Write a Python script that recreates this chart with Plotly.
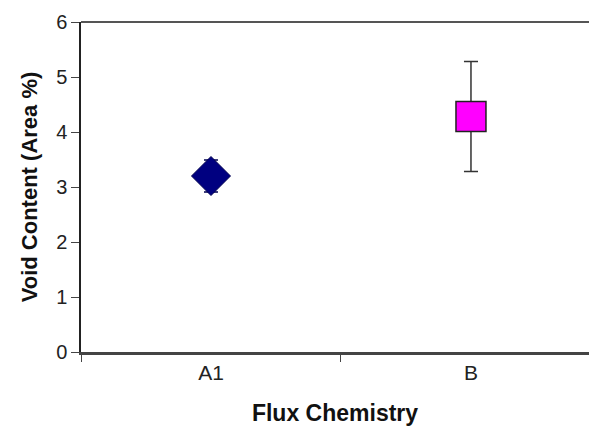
import plotly.graph_objects as go

categories = ["A1", "B"]
void_content = [3.2, 4.28]
error_values = [0.29, 1.0]
marker_symbols = ["diamond", "square"]
marker_colors = ["#000080", "#FF00FF"]
y_ticks = [0, 1, 2, 3, 4, 5, 6]

fig = go.Figure()
fig.add_trace(go.Scatter(
    x=[categories[0]], y=[void_content[0]], mode="markers",
    marker=dict(symbol=marker_symbols[0], size=30, color=marker_colors[0],
                line=dict(color="#000050", width=1)),
    error_y=dict(type="data", array=[error_values[0]], color="#000050", thickness=1.5, width=7),
    showlegend=False))
fig.add_trace(go.Scatter(
    x=[categories[1]], y=[void_content[1]], mode="markers",
    marker=dict(symbol=marker_symbols[1], size=30, color=marker_colors[1],
                line=dict(color="#222222", width=1.5)),
    error_y=dict(type="data", array=[error_values[1]], color="#333333", thickness=1.5, width=7),
    showlegend=False))

# top border of the plot area
fig.add_shape(type="line", xref="paper", yref="paper", x0=0, x1=1, y0=1, y1=1,
              line=dict(color="#555555", width=2))

font_family = "Liberation Sans, Arial, sans-serif"
fig.update_layout(
    width=589, height=443,
    margin=dict(l=81, r=0, t=22, b=91, pad=0),
    plot_bgcolor="white", paper_bgcolor="white",
    font=dict(family=font_family, color="#222222"),
    xaxis=dict(
        type="category", categoryorder="array", categoryarray=categories,
        range=[-0.5, 1.454], tickson="boundaries", ticks="outside", ticklen=7,
        tickcolor="#444444", showline=True, linecolor="#444444", linewidth=2.5,
        showgrid=False, zeroline=False, automargin=False,
        tickfont=dict(size=21, color="#222222"),
        title=dict(text="<b>Flux Chemistry</b>", font=dict(size=23, color="#111111"), standoff=22),
    ),
    yaxis=dict(
        range=[0, 6], tickvals=y_ticks, ticks="outside", ticklen=8,
        tickcolor="#444444", showline=True, linecolor="#222222", linewidth=1.5,
        showgrid=False, zeroline=False, automargin=False,
        tickfont=dict(size=20, color="#222222"),
        title=dict(text="<b>Void Content (Area %)</b>", font=dict(size=22, color="#111111"), standoff=12),
    ),
)
fig.write_html("out.html")
